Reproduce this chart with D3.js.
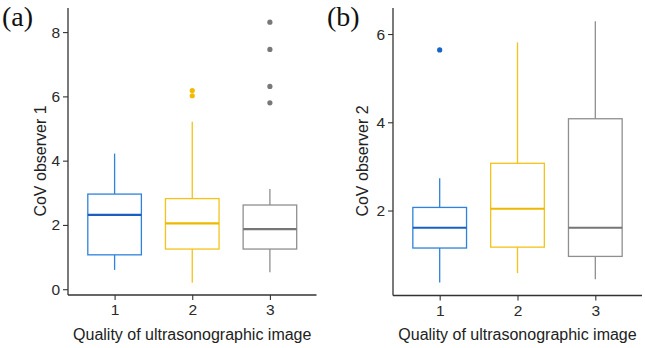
<!DOCTYPE html>
<html>
<head>
<meta charset="utf-8">
<script src="https://cdn.jsdelivr.net/npm/d3@7/dist/d3.min.js"></script>
<style>
  body { margin: 0; background: #fff; }
  svg text { font-family: "Liberation Sans", Arial, sans-serif; }
</style>
</head>
<body>
<svg id="chart" width="645" height="348"></svg>
<script>
// categories (image quality grade)
var categories = ["1", "2", "3"];
var boxColors = ["#2f82dc", "#f5c219", "#8f8f8f"];
var medianColors = ["#1a5fbf", "#efb800", "#767676"];
var dotColors = ["#1565c8", "#f3bb00", "#787878"];

// observer 1
var obs1Lower = [0.60, 0.20, 0.53];
var obs1Q1 = [1.07, 1.25, 1.25];
var obs1Median = [2.31, 2.05, 1.87];
var obs1Q3 = [2.96, 2.82, 2.62];
var obs1Upper = [4.22, 5.21, 3.12];
var obs1Outliers = [[], [6.02, 6.18], [5.80, 6.31, 7.46, 8.31]];
var obs1Ticks = [0, 2, 4, 6, 8];

// observer 2
var obs2Lower = [0.37, 0.58, 0.44];
var obs2Q1 = [1.15, 1.17, 0.96];
var obs2Median = [1.61, 2.04, 1.61];
var obs2Q3 = [2.07, 3.07, 4.08];
var obs2Upper = [2.73, 5.81, 6.29];
var obs2Outliers = [[5.64], [], []];
var obs2Ticks = [2, 4, 6];

var svg = d3.select("#chart");

function drawPanel(opt) {
	var x = d3.scalePoint()
		.domain(categories)
		.range([opt.left, opt.right])
		.padding(0.6);
	var y = d3.scaleLinear()
		.domain(opt.domain)
		.range([opt.bottom, opt.top]);
	var bw = x.step() * 0.69;

	var g = svg.append("g");

	// boxes
	categories.forEach(function(c, i) {
		var cx = x(c);
		var col = boxColors[i];
		// whiskers
		g.append("line")
			.attr("x1", cx).attr("x2", cx)
			.attr("y1", y(opt.q3[i])).attr("y2", y(opt.upper[i]))
			.attr("stroke", col).attr("stroke-width", 1.3);
		g.append("line")
			.attr("x1", cx).attr("x2", cx)
			.attr("y1", y(opt.q1[i])).attr("y2", y(opt.lower[i]))
			.attr("stroke", col).attr("stroke-width", 1.3);
		g.append("rect")
			.attr("x", cx - bw / 2)
			.attr("y", y(opt.q3[i]))
			.attr("width", bw)
			.attr("height", y(opt.q1[i]) - y(opt.q3[i]))
			.attr("fill", "none")
			.attr("stroke", col)
			.attr("stroke-width", 1.3);
		g.append("line")
			.attr("x1", cx - bw / 2).attr("x2", cx + bw / 2)
			.attr("y1", y(opt.median[i])).attr("y2", y(opt.median[i]))
			.attr("stroke", medianColors[i]).attr("stroke-width", 2.2);
		g.selectAll(null)
			.data(opt.outliers[i])
			.enter().append("circle")
			.attr("cx", cx)
			.attr("cy", function(d) { return y(d); })
			.attr("r", 2.6)
			.attr("fill", dotColors[i]);
	});

	// axes
	var yAxis = d3.axisLeft(y).tickValues(opt.ticks).tickFormat(d3.format("d"))
		.tickSize(5).tickPadding(3).tickSizeOuter(0);
	var xAxis = d3.axisBottom(x).tickSize(5).tickPadding(4).tickSizeOuter(0);

	var ya = g.append("g")
		.attr("transform", "translate(" + opt.left + ",0)")
		.call(yAxis);
	ya.select(".domain").remove();
	ya.append("line")
		.attr("x1", 0).attr("x2", 0)
		.attr("y1", opt.top).attr("y2", opt.bottom)
		.attr("stroke", "#333").attr("stroke-width", 1.3);

	var xa = g.append("g")
		.attr("transform", "translate(0," + opt.bottom + ")")
		.call(xAxis);
	xa.select(".domain").remove();
	xa.append("line")
		.attr("x1", opt.left).attr("x2", opt.right)
		.attr("y1", 0).attr("y2", 0)
		.attr("stroke", "#333").attr("stroke-width", 1.3);

	g.selectAll(".tick line").attr("stroke", "#333").attr("stroke-width", 1.1);
	g.selectAll(".tick text")
		.attr("fill", "#2a2a2a")
		.style("font-family", "'Liberation Sans', Arial, sans-serif")
		.style("font-size", "15.5px");

	// titles
	g.append("text")
		.attr("transform", "translate(" + opt.titleX + ",161) rotate(-90)")
		.attr("text-anchor", "middle")
		.style("font-size", "16px")
		.attr("fill", "#222")
		.text(opt.yTitle);
	g.append("text")
		.attr("x", (opt.left + opt.right) / 2)
		.attr("y", 340)
		.attr("text-anchor", "middle")
		.style("font-size", "16px")
		.attr("fill", "#222")
		.text("Quality of ultrasonographic image");

	g.append("text")
		.attr("x", opt.labelX)
		.attr("y", 26)
		.style("font-family", "'Liberation Serif', 'Times New Roman', serif")
		.style("font-size", "28px")
		.attr("fill", "#111")
		.text(opt.label);
}

drawPanel({
	left: 68, right: 316.5, top: 8, bottom: 295,
	domain: [-0.18, 8.75],
	lower: obs1Lower, q1: obs1Q1, median: obs1Median, q3: obs1Q3, upper: obs1Upper,
	outliers: obs1Outliers, ticks: obs1Ticks,
	yTitle: "CoV observer 1", titleX: 46, label: "(a)", labelX: 2
});

drawPanel({
	left: 393, right: 642, top: 8, bottom: 295.5,
	domain: [0.074, 6.59],
	lower: obs2Lower, q1: obs2Q1, median: obs2Median, q3: obs2Q3, upper: obs2Upper,
	outliers: obs2Outliers, ticks: obs2Ticks,
	yTitle: "CoV observer 2", titleX: 368, label: "(b)", labelX: 327
});
</script>
</body>
</html>
